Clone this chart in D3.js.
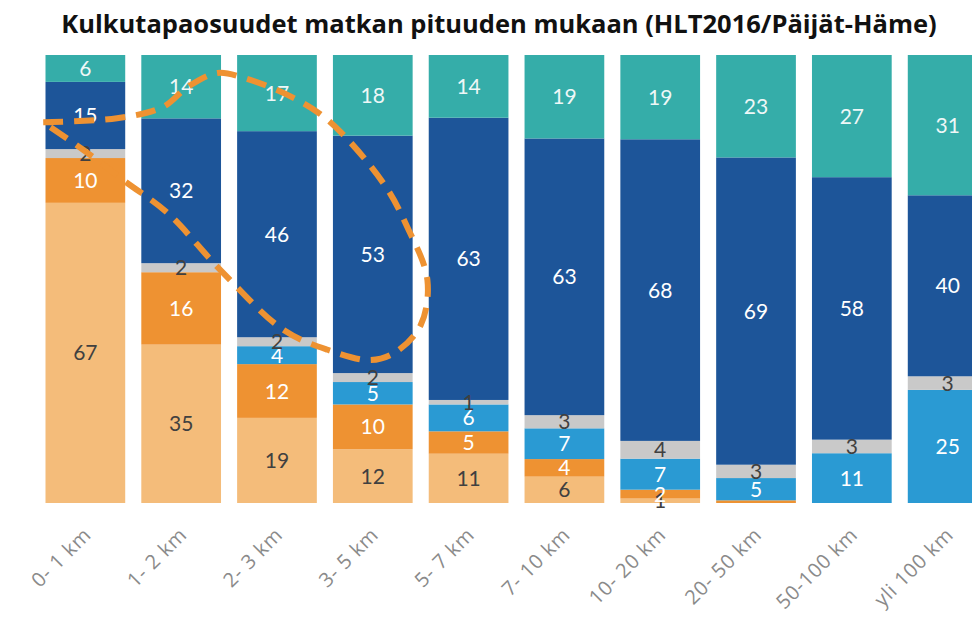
<!DOCTYPE html>
<html>
<head>
<meta charset="utf-8">
<script src="https://cdn.jsdelivr.net/npm/d3@7"></script>
<style>
  body { margin: 0; background: #fff; }
  svg { display: block; font-family: Lato, "Open Sans", sans-serif; }
</style>
</head>
<body>
<script>
var kategoriat = ["0- 1 km", "1- 2 km", "2- 3 km", "3- 5 km", "5- 7 km", "7- 10 km", "10- 20 km", "20- 50 km", "50-100 km", "yli 100 km"];

// osuudet (%) alhaalta ylos
var kavely     = [67, 35, 19, 12, 11, 6, 1, 0, 0, 0];
var pyora      = [10, 16, 12, 10, 5, 4, 2, 0.6, 0, 0];
var joukko     = [0, 0, 4, 5, 6, 7, 7, 5, 11, 25];
var muu        = [2, 2, 2, 2, 1, 3, 4, 3, 3, 3];
var auto       = [15, 32, 46, 53, 63, 63, 68, 69, 58, 40];
var matkustaja = [6, 14, 17, 18, 14, 19, 19, 23, 27, 31];

var sarjat = ["kavely", "pyora", "joukko", "muu", "auto", "matkustaja"];
var varit = ["#F4BC7A", "#EE9232", "#2A9AD3", "#C9C9C9", "#1D5599", "#35ADA9"];
var tekstivarit = ["#404040", "#ffffff", "#ffffff", "#404040", "#ffffff", "#eef7f7"];

// katkoviivarenkaan pisteet: x = pylvaan indeksi, y = % alhaalta
var renkaanX = [-0.44, 0.33, 0.81, 1.07, 1.38, 1.65, 2.11, 2.53, 3.11, 3.36, 3.57, 3.50, 3.24, 2.98, 2.53, 2.07, 1.41, 0.86, 0.42, -0.02, -0.44];
var renkaanY = [85.0, 85.9, 88.4, 92.9, 96.0, 94.9, 91.1, 85.5, 71.4, 61.6, 49.8, 39.7, 33.7, 31.9, 34.2, 38.6, 52.0, 64.7, 71.7, 78.8, 85.0];

var w = 972;
var h = 628;

var taulu = kategoriat.map(function (k, i) {
    return {
        kategoria: k,
        kavely: kavely[i], pyora: pyora[i], joukko: joukko[i],
        muu: muu[i], auto: auto[i], matkustaja: matkustaja[i]
    };
});

var svg = d3.select("body")
    .append("svg")
    .attr("width", w)
    .attr("height", h);

var x = d3.scaleBand()
    .domain(kategoriat)
    .range([45.5, 987.5])
    .paddingInner(0.168)
    .paddingOuter(0);

var y = d3.scaleLinear()
    .domain([0, 1])
    .range([503, 55]);

var pinot = d3.stack()
    .keys(sarjat)
    .offset(d3.stackOffsetExpand)(taulu);

svg.append("text")
    .attr("x", 499)
    .attr("y", 33)
    .attr("text-anchor", "middle")
    .attr("font-family", "'Open Sans', sans-serif")
    .attr("font-weight", "bold")
    .attr("font-size", 25.5)
    .attr("fill", "#111")
    .text("Kulkutapaosuudet matkan pituuden mukaan (HLT2016/Päijät-Häme)");

var ryhmat = svg.selectAll("g.sarja")
    .data(pinot)
    .enter()
    .append("g")
    .attr("class", "sarja")
    .attr("fill", function (d, i) { return varit[i]; });

ryhmat.selectAll("rect")
    .data(function (d) { return d; })
    .enter()
    .append("rect")
    .attr("x", function (d) { return x(d.data.kategoria); })
    .attr("width", x.bandwidth())
    .attr("y", function (d) { return y(d[1]); })
    .attr("height", function (d) { return y(d[0]) - y(d[1]); });

var kirjaimet = svg.selectAll("g.arvot")
    .data(pinot)
    .enter()
    .append("g")
    .attr("class", "arvot")
    .attr("fill", function (d, i) { return tekstivarit[i]; });

kirjaimet.selectAll("text")
    .data(function (d) {
        return d.map(function (s) { return { s: s, v: s.data[d.key] }; })
            .filter(function (o) { return o.v >= 1; });
    })
    .enter()
    .append("text")
    .attr("x", function (o) { return x(o.s.data.kategoria) + x.bandwidth() / 2; })
    .attr("y", function (o) { return (y(o.s[0]) + y(o.s[1])) / 2; })
    .attr("dy", "0.36em")
    .attr("text-anchor", "middle")
    .attr("font-size", 21)
    .text(function (o) { return o.v; });

// x-akselin nimet vinossa
var akseli = svg.append("g")
    .attr("transform", "translate(0,503)")
    .call(d3.axisBottom(x).tickSize(0).tickPadding(0));
akseli.select(".domain").remove();
akseli.selectAll("text")
    .attr("font-family", "'Open Sans', sans-serif")
    .attr("font-size", 20)
    .attr("letter-spacing", 0.8)
    .attr("fill", "#8a8a8a")
    .attr("text-anchor", "end")
    .attr("dy", 0)
    .attr("y", 0)
    .attr("transform", "translate(7,33) rotate(-45)");

// katkoviivarengas
var vali = x.step();
var ekaKeski = x(kategoriat[0]) + x.bandwidth() / 2;
var viiva = d3.line()
    .x(function (d) { return ekaKeski + d[0] * vali; })
    .y(function (d) { return y(d[1] / 100); })
    .curve(d3.curveCatmullRom.alpha(0.5));

svg.append("path")
    .datum(renkaanX.map(function (v, i) { return [v, renkaanY[i]]; }))
    .attr("d", viiva)
    .attr("fill", "none")
    .attr("stroke", "#EE9232")
    .attr("stroke-width", 6)
    .attr("stroke-dasharray", "20 11");
</script>
</body>
</html>
